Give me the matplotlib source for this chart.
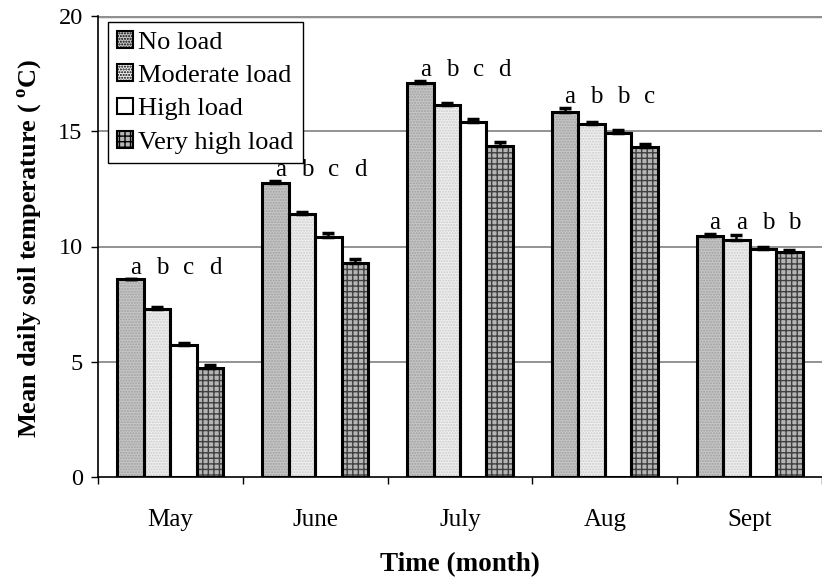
import numpy as np
import matplotlib
matplotlib.use('Agg')
import matplotlib.pyplot as plt
from matplotlib.patches import Patch

plt.rcParams['font.family'] = ['Liberation Serif', 'DejaVu Serif']
plt.rcParams['mathtext.fontset'] = 'custom'
plt.rcParams['mathtext.rm'] = 'Liberation Serif'
plt.rcParams['mathtext.bf'] = 'Liberation Serif:bold'

# andmed (loetud pildilt)
months = ['May', 'June', 'July', 'Aug', 'Sept']
series = ['No load', 'Moderate load', 'High load', 'Very high load']
no_load = [8.57, 12.75, 17.1, 15.82, 10.45]
moderate_load = [7.27, 11.42, 16.14, 15.3, 10.29]
high_load = [5.73, 10.42, 15.41, 14.94, 9.89]
very_high_load = [4.72, 9.27, 14.36, 14.33, 9.76]
err_no = [0.04, 0.1, 0.1, 0.2, 0.09]
err_moderate = [0.1, 0.07, 0.1, 0.12, 0.19]
err_high = [0.07, 0.15, 0.1, 0.12, 0.1]
err_very_high = [0.13, 0.17, 0.19, 0.13, 0.1]
letters = [['a', 'b', 'c', 'd'],
           ['a', 'b', 'c', 'd'],
           ['a', 'b', 'c', 'd'],
           ['a', 'b', 'b', 'c'],
           ['a', 'a', 'b', 'b']]

values = [no_load, moderate_load, high_load, very_high_load]
errors = [err_no, err_moderate, err_high, err_very_high]

# stiilid: (taust, viirutus, viirutuse varv)
styles = [('#c6c6c6', '......', '#a0a0a0'),
          ('#efefef', '......', '#cccccc'),
          ('white', None, 'white'),
          ('#b5b5b5', '+++', '#404040')]

fig = plt.figure(figsize=(8.22, 5.79), dpi=100)
ax = fig.add_axes([98 / 822, 102 / 579, 724 / 822, 461 / 579])

x = np.arange(len(months))
width = 0.183

for yv in [5, 10, 15]:
    ax.axhline(yv, color='#808080', lw=1.2, zorder=0)
ax.axhline(20, color='#909090', lw=2.5, zorder=0)

for i in range(4):
    pos = x + (i - 1.5) * width
    fc, hatch, hc = styles[i]
    ax.bar(pos, values[i], width, color=fc, hatch=hatch, edgecolor=hc, linewidth=0, zorder=2)
    ax.bar(pos, values[i], width, fill=False, edgecolor='black', linewidth=2.2, zorder=3)
    ax.errorbar(pos, values[i], yerr=[np.zeros(5), errors[i]], fmt='none', ecolor='black',
                elinewidth=1.8, capsize=4.5, capthick=2.5, zorder=4)

# tähed tulpade kohal
for g in range(len(months)):
    top = max(values[i][g] + errors[i][g] for i in range(4))
    for i in range(4):
        ax.text(x[g] + (i - 1.5) * width + 0.035, top + 0.2, letters[g][i],
                ha='center', va='baseline', fontsize=18)

ax.set_xlim(-0.5, 4.5)
ax.set_ylim(0, 20)
ax.set_yticks([0, 5, 10, 15, 20])
ax.tick_params(axis='y', labelsize=17.5, length=5, width=1, direction='out', pad=6)
ax.set_xticks(x)
ax.set_xticklabels(months)
ax.set_xticks(np.arange(-0.5, 5, 1), minor=True)
ax.tick_params(axis='x', which='major', length=0, labelsize=18, pad=23)
ax.tick_params(axis='x', which='minor', length=5, width=1, direction='out')

ax.spines['top'].set_visible(False)
ax.spines['right'].set_visible(False)
ax.spines['left'].set_linewidth(1.2)
ax.spines['bottom'].set_linewidth(1.2)

ax.set_xlabel('Time (month)', fontsize=19.5, fontweight='bold', labelpad=15)
fig.text(30 / 822, 1 - 248 / 579, r'Mean daily soil temperature ( $^{\mathbf{o}}$C)',
         rotation=90, ha='center', va='center', fontsize=19, fontweight='bold')

handles = [Patch(facecolor=styles[i][0], hatch=styles[i][1], edgecolor='black', linewidth=1.5)
           for i in range(4)]
leg = ax.legend(handles, series, loc='upper left', bbox_to_anchor=(10 / 724, 455 / 461),
                borderaxespad=0, fontsize=19, handlelength=0.6, handleheight=0.6,
                handletextpad=0.2, labelspacing=0.4, fancybox=False, framealpha=1,
                edgecolor='black', borderpad=0.35)
leg.get_frame().set_linewidth(1.0)
leg.set_zorder(5)

fig.savefig('out.png', dpi=100)
